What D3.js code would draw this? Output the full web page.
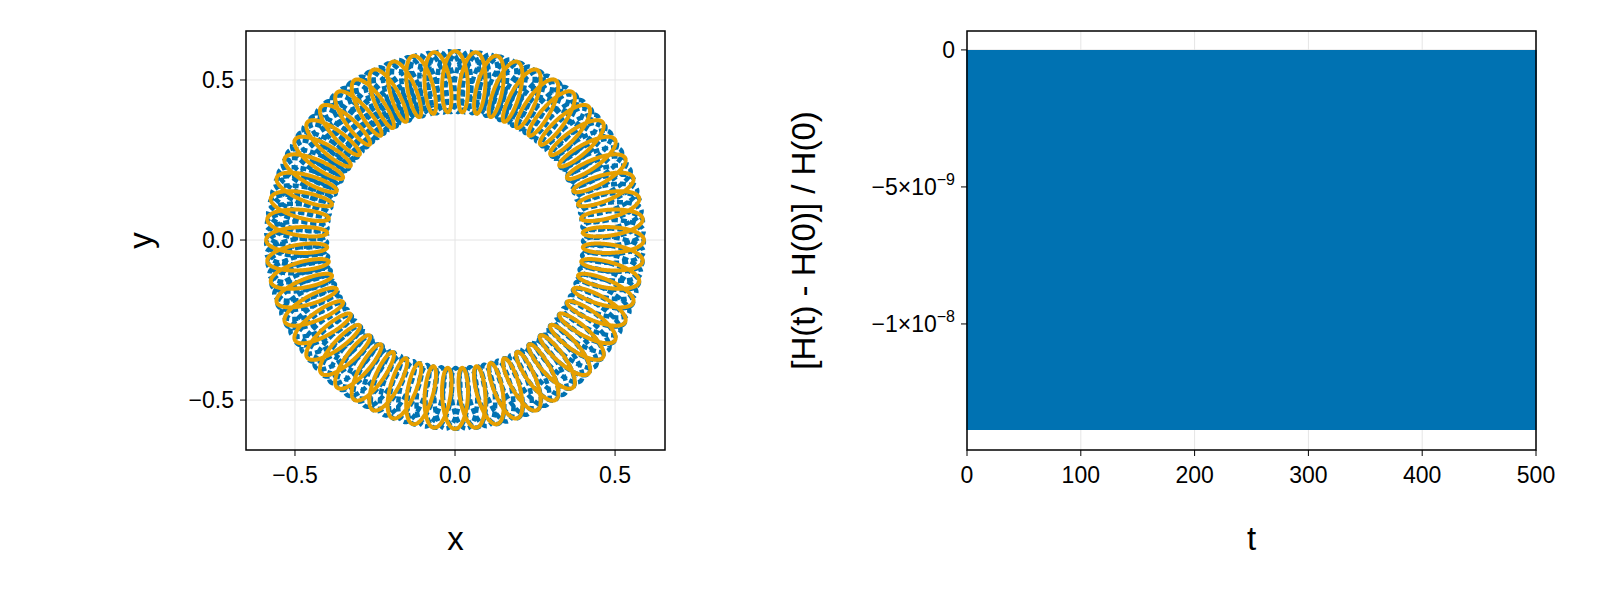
<!DOCTYPE html>
<html><head><meta charset="utf-8">
<script src="https://cdn.jsdelivr.net/npm/d3@7"></script>
<style>body{margin:0;background:#fff}svg{font-family:"Liberation Sans",Arial,sans-serif}</style>
</head><body><svg id="c" width="1600" height="600"></svg>
<script>
// ---- data ----
const orbitTicks = [-0.5, 0.0, 0.5];
const orbitTickLabels = ["−0.5", "0.0", "0.5"];
const orbitRadius = [0.4, 0.59];          // inner, outer radius of the ring
const orbitLoops = [56.5, 56];            // loops per revolution (blue, orange)
const orbitTangential = [0.026, 0.026];   // loop half width
const orbitPhase = [0.5, 0.0];
const orbitRevs = [2, 1];
const orbitColors = ["#0072b2", "#e69f00"];
const tTicks = [0, 100, 200, 300, 400, 500];
const eTicks = [0, -5e-9, -1e-8];
const eTickLabels = [["0",""], ["−5×10","−9"], ["−1×10","−8"]];
const energyRange = [0, -1.387e-8];       // max, min of relative error
const energyCycles = 1500;                // oscillations over t in [0,500]
const tEnd = 500;

const svg = d3.select("#c");
const grid = "#e5e5e5";
const TF = 23, LF = 33;

// ---- left plot ----
const L = {x0:246, x1:665, y0:31, y1:450};
const xs = d3.scaleLinear().domain([-0.653, 0.656]).range([L.x0, L.x1]);
const ys = d3.scaleLinear().domain([-0.656, 0.653]).range([L.y1, L.y0]);
const gl = svg.append("g");
orbitTicks.forEach(v=>{
  gl.append("line").attr("x1",xs(v)).attr("x2",xs(v)).attr("y1",L.y0).attr("y2",L.y1).attr("stroke",grid);
  gl.append("line").attr("y1",ys(v)).attr("y2",ys(v)).attr("x1",L.x0).attr("x2",L.x1).attr("stroke",grid);
});
const R = (orbitRadius[0]+orbitRadius[1])/2, A = (orbitRadius[1]-orbitRadius[0])/2;
function orbit(i){
  const revs = orbitRevs[i];
  const pts=[]; const N=20000*revs;
  for(let k=0;k<=N;k++){
    const phi = k/N*2*Math.PI*revs;
    const a = orbitLoops[i]*phi + orbitPhase[i];
    const r = R + A*Math.cos(a), tg = orbitTangential[i]*Math.sin(a);
    pts.push([r*Math.cos(phi) - tg*Math.sin(phi), r*Math.sin(phi) + tg*Math.cos(phi)]);
  }
  return pts;
}
const line = d3.line().x(d=>xs(d[0])).y(d=>ys(d[1]));
gl.append("path").attr("d",line(orbit(0))).attr("fill","none").attr("stroke",orbitColors[0]).attr("stroke-width",4.5).attr("stroke-dasharray","6,3");
gl.append("path").attr("d",line(orbit(1))).attr("fill","none").attr("stroke",orbitColors[1]).attr("stroke-width",4);
gl.append("rect").attr("x",L.x0).attr("y",L.y0).attr("width",L.x1-L.x0).attr("height",L.y1-L.y0).attr("fill","none").attr("stroke","#000").attr("stroke-width",1.5);
orbitTicks.forEach((v,i)=>{
  gl.append("line").attr("x1",xs(v)).attr("x2",xs(v)).attr("y1",L.y1).attr("y2",L.y1+6).attr("stroke","#000");
  gl.append("text").attr("x",xs(v)).attr("y",L.y1+33).attr("text-anchor","middle").attr("font-size",TF).text(orbitTickLabels[i]);
  gl.append("line").attr("y1",ys(v)).attr("y2",ys(v)).attr("x1",L.x0-6).attr("x2",L.x0).attr("stroke","#000");
  gl.append("text").attr("x",L.x0-12).attr("y",ys(v)+8).attr("text-anchor","end").attr("font-size",TF).text(orbitTickLabels[i]);
});
gl.append("text").attr("x",(L.x0+L.x1)/2).attr("y",550).attr("text-anchor","middle").attr("font-size",LF).text("x");
gl.append("text").attr("transform",`translate(152,${(L.y0+L.y1)/2}) rotate(-90)`).attr("text-anchor","middle").attr("font-size",LF).text("y");

// ---- right plot ----
const P = {x0:967, x1:1536, y0:31, y1:450};
const ts = d3.scaleLinear().domain([0,tEnd]).range([P.x0,P.x1]);
const es = d3.scaleLinear().domain([-1.46e-8, 0.69e-9]).range([P.y1,P.y0]);
const gr = svg.append("g");
tTicks.forEach(v=>gr.append("line").attr("x1",ts(v)).attr("x2",ts(v)).attr("y1",P.y0).attr("y2",P.y1).attr("stroke",grid));
eTicks.forEach(v=>gr.append("line").attr("y1",es(v)).attr("y2",es(v)).attr("x1",P.x0).attr("x2",P.x1).attr("stroke",grid));
const ep=[];
for(let k=0;k<=energyCycles*2;k++){ ep.push([k/(energyCycles*2)*tEnd, k%2===0?energyRange[0]:energyRange[1]]); }
gr.append("path").attr("d",d3.line().x(d=>ts(d[0])).y(d=>es(d[1]))(ep)).attr("fill","none").attr("stroke",orbitColors[0]).attr("stroke-width",1.5);
gr.append("rect").attr("x",P.x0).attr("y",P.y0).attr("width",P.x1-P.x0).attr("height",P.y1-P.y0).attr("fill","none").attr("stroke","#000").attr("stroke-width",1.5);
tTicks.forEach(v=>{
  gr.append("line").attr("x1",ts(v)).attr("x2",ts(v)).attr("y1",P.y1).attr("y2",P.y1+6).attr("stroke","#000");
  gr.append("text").attr("x",ts(v)).attr("y",P.y1+33).attr("text-anchor","middle").attr("font-size",TF).text(v);
});
eTicks.forEach((v,i)=>{
  gr.append("line").attr("y1",es(v)).attr("y2",es(v)).attr("x1",P.x0-6).attr("x2",P.x0).attr("stroke","#000");
  const t=gr.append("text").attr("x",P.x0-12).attr("y",es(v)+8).attr("text-anchor","end").attr("font-size",TF);
  t.append("tspan").text(eTickLabels[i][0]);
  if(eTickLabels[i][1]) t.append("tspan").attr("dy",-10).attr("font-size",16).text(eTickLabels[i][1]);
});
gr.append("text").attr("x",(P.x0+P.x1)/2).attr("y",550).attr("text-anchor","middle").attr("font-size",LF).text("t");
gr.append("text").attr("transform",`translate(815,${(P.y0+P.y1)/2}) rotate(-90)`).attr("text-anchor","middle").attr("font-size",LF).text("[H(t) - H(0)] / H(0)");
</script></body></html>
